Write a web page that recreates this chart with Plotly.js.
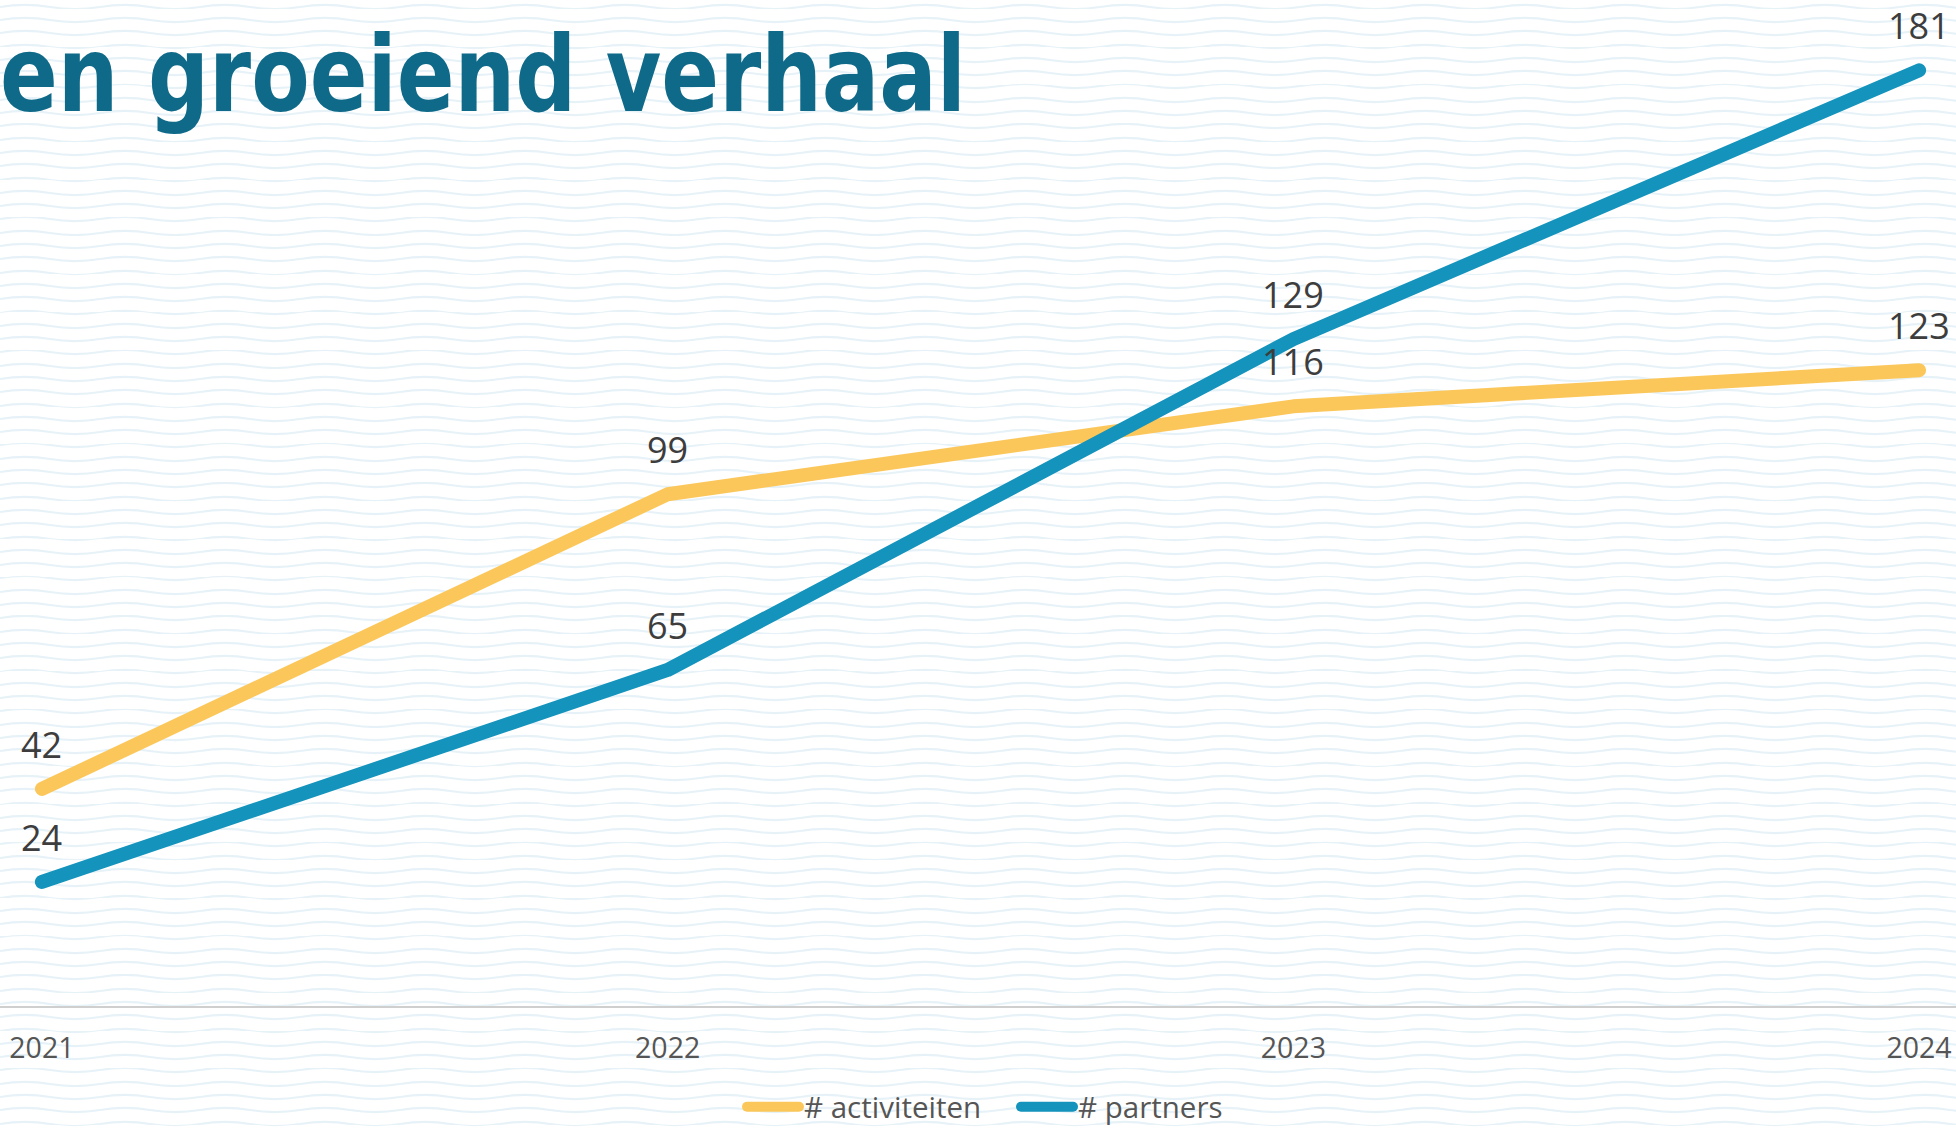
<!DOCTYPE html>
<html>
<head>
<meta charset="utf-8">
<script src="https://cdn.plot.ly/plotly-3.0.1.min.js"></script>
<style>
  html, body { margin: 0; padding: 0; }
  body {
    width: 1956px; height: 1129px; overflow: hidden;
    background-color: #ffffff;
    background-image: url("data:image/svg+xml;utf8,<svg xmlns='http://www.w3.org/2000/svg' width='100' height='13.3'><path d='M0 6.65 Q25 2.65 50 6.65 T100 6.65' fill='none' stroke='%23e6f2f8' stroke-width='2'/></svg>");
    background-size: 100px 13.3px;
  }
  #chart { width: 1956px; height: 1129px; }
  .js-line { stroke-linecap: round; stroke-linejoin: round; }
</style>
</head>
<body>
<div id="chart"></div>
<script>
const years = [2021, 2022, 2023, 2024];
const tickLabels = ["2021", "2022", "2023", "2024"];
const activiteiten = [42, 99, 116, 123];
const partners = [24, 65, 129, 181];
const seriesNames = ["# activiteiten", "# partners"];
const titleText = "en groeiend verhaal";

const colors = ["#fcc75a", "#1493bc"];
const labelFont = { family: "Open Sans, Noto Sans, sans-serif", size: 36, color: "#3d3d3d" };

const traces = [activiteiten, partners].map((vals, i) => ({
  x: years, y: vals, type: "scatter", mode: "lines",
  name: seriesNames[i],
  line: { color: colors[i], width: 14 },
  hoverinfo: "x+y"
}));

const annotations = [];
[activiteiten, partners].forEach((vals) => {
  vals.forEach((v, j) => {
    annotations.push({
      x: years[j], y: v, xref: "x", yref: "y",
      text: String(v), showarrow: false,
      xanchor: "center", yanchor: "bottom", yshift: 18,
      font: labelFont
    });
  });
});

const layout = {
  width: 1956, height: 1129,
  paper_bgcolor: "rgba(0,0,0,0)", plot_bgcolor: "rgba(0,0,0,0)",
  margin: { l: 0, r: 0, t: 0, b: 123 },
  title: {
    text: "<b>" + titleText + "</b>",
    x: 0, xref: "container", xanchor: "left",
    y: 1 - 37 / 1129, yref: "container", yanchor: "top",
    font: { family: "DejaVu Sans Condensed, Open Sans, sans-serif", size: 106, color: "#0f6a89" }
  },
  xaxis: {
    type: "linear", range: [2020.933, 2024.059],
    tickvals: years, ticktext: tickLabels,
    showgrid: false, zeroline: false,
    showline: true, linecolor: "#cfcfcf", linewidth: 1.5,
    ticks: "", ticklabelstandoff: 16,
    tickfont: { family: "Open Sans, Noto Sans, sans-serif", size: 28.5, color: "#555555" }
  },
  yaxis: {
    range: [0, 194.6], visible: false, showgrid: false, zeroline: false, fixedrange: true
  },
  showlegend: true,
  legend: {
    orientation: "h", x: 742 / 1956, xanchor: "left", xref: "container",
    y: 1 - 1107 / 1129, yanchor: "middle", yref: "container",
    itemwidth: 52, entrywidth: 207, entrywidthmode: "pixels",
    bgcolor: "rgba(0,0,0,0)",
    font: { family: "Open Sans, Noto Sans, sans-serif", size: 29.5, color: "#555555" }
  },
  annotations: annotations
};

function fitTitle() {
  const t = document.querySelector("#chart .gtitle");
  if (t) {
    t.setAttribute("textLength", "966");
    t.setAttribute("lengthAdjust", "spacingAndGlyphs");
  }
}

Plotly.newPlot("chart", traces, layout, { displayModeBar: false, responsive: false }).then(fitTitle);
</script>
</body>
</html>
